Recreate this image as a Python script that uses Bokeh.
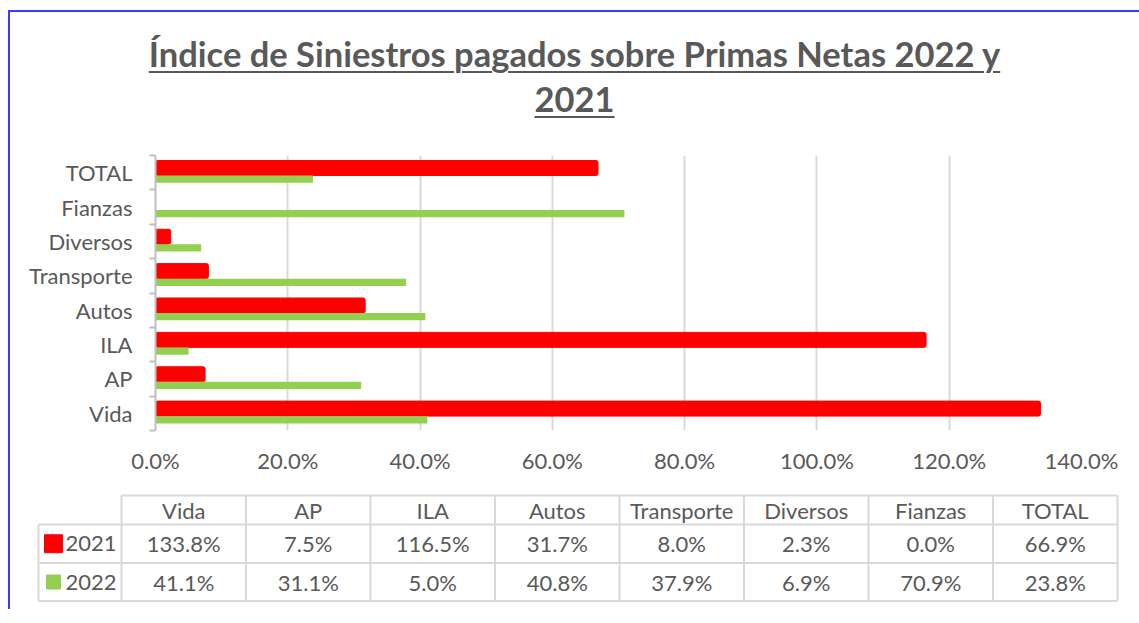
from bokeh.plotting import figure
from bokeh.models import Range1d, FixedTicker, PrintfTickFormatter, Div
from bokeh.layouts import column
from bokeh.embed import file_html
from bokeh.resources import INLINE
from bokeh.core.properties import value

# ---------------- data ----------------
categories = ["Vida", "AP", "ILA", "Autos", "Transporte", "Diversos", "Fianzas", "TOTAL"]
series_2021 = [133.8, 7.5, 116.5, 31.7, 8.0, 2.3, 0.0, 66.9]
series_2022 = [41.1, 31.1, 5.0, 40.8, 37.9, 6.9, 70.9, 23.8]
years = ["2021", "2022"]
x_ticks = [0, 20, 40, 60, 80, 100, 120, 140]
title_lines = ["Índice de Siniestros pagados sobre Primas Netas 2022 y", "2021"]

# ---------------- styles ----------------
FONT = "Lato"
TXT = "#595959"
RED = "#ff0000"
GREEN = "#92d050"
GRID = "#d9d9d9"
AXIS = "#bfbfbf"
FS = "22px"
W_ALL = 1129

n = len(categories)

# ---------------- title ----------------
title = Div(
    text=('<div style="width:%dpx;text-align:center;font-family:Lato;font-weight:bold;'
          'font-size:34.5px;color:%s;line-height:45px;padding-top:19px;padding-left:7px;'
          'text-decoration:underline;text-decoration-thickness:2px;text-underline-offset:4px;">'
          '%s<br>%s</div>') % (W_ALL - 7, TXT, title_lines[0], title_lines[1]),
    width=W_ALL, height=130, margin=0,
)

# ---------------- bar chart ----------------
p = figure(width=W_ALL, height=340, x_range=Range1d(0, 140), y_range=Range1d(0, n),
           output_backend="svg", toolbar_location=None,
           min_border_left=145, min_border_right=58, min_border_top=13, min_border_bottom=52,
           outline_line_color=None, background_fill_color="white", border_fill_color="white")
p.frame_align = False

centers = [i + 0.5 for i in range(n)]
RED_OFF, RED_H = 0.137, 0.436
GRN_OFF, GRN_H = -0.188, 0.212

p.hbar(y=[c + RED_OFF for c in centers], left=0, right=series_2021, height=RED_H,
       fill_color=RED, line_color=RED, border_radius=2)
p.hbar(y=[c + GRN_OFF for c in centers], left=0, right=series_2022, height=GRN_H,
       fill_color=GREEN, line_color=None)

p.xaxis.ticker = FixedTicker(ticks=x_ticks)
p.xaxis.formatter = PrintfTickFormatter(format="%.1f%%")
p.xaxis.axis_line_color = None
p.xaxis.major_tick_line_color = None
p.xaxis.minor_tick_line_color = None
p.xaxis.major_tick_out = 0
p.xaxis.major_tick_in = 0
p.xaxis.major_label_standoff = 16
p.xaxis.major_label_text_font = FONT
p.xaxis.major_label_text_font_size = FS
p.xaxis.major_label_text_color = TXT

p.xgrid.ticker = FixedTicker(ticks=x_ticks)
p.xgrid.grid_line_color = GRID
p.xgrid.grid_line_width = 2
p.ygrid.grid_line_color = None

p.yaxis.ticker = FixedTicker(ticks=centers, minor_ticks=list(range(n + 1)))
p.yaxis.major_label_overrides = {c: name for c, name in zip(centers, categories)}
p.yaxis.axis_line_color = AXIS
p.yaxis.axis_line_width = 2
p.yaxis.major_tick_line_color = None
p.yaxis.major_tick_out = 0
p.yaxis.major_tick_in = 0
p.yaxis.minor_tick_line_color = AXIS
p.yaxis.minor_tick_line_width = 2
p.yaxis.minor_tick_out = 6
p.yaxis.minor_tick_in = 0
p.yaxis.major_label_standoff = 17
p.yaxis.major_label_text_font = FONT
p.yaxis.major_label_text_font_size = FS
p.yaxis.major_label_text_color = TXT

# ---------------- data table ----------------
COL_W = 124.5
LAB_W = 83.0
PAD = 5.0
lab_x = -LAB_W / COL_W
t = figure(width=W_ALL, height=127,
           x_range=Range1d(-(LAB_W + PAD) / COL_W, n + PAD / COL_W),
           y_range=Range1d(122, 0),
           output_backend="svg", toolbar_location=None,
           min_border_left=23, min_border_right=17, min_border_top=3, min_border_bottom=2,
           outline_line_color=None, background_fill_color="white", border_fill_color="white")
t.frame_align = False
t.axis.visible = False
t.grid.visible = False

hdr_top, hdr_bot, r1_bot, r2_bot = 10, 39, 77.5, 115.5
x0s = [0, lab_x, lab_x, lab_x] + [lab_x] + list(range(n + 1))
x1s = [n, n, n, n] + [lab_x] + list(range(n + 1))
y0s = [hdr_top, hdr_bot, r1_bot, r2_bot] + [hdr_bot] + [hdr_top] * (n + 1)
y1s = [hdr_top, hdr_bot, r1_bot, r2_bot] + [r2_bot] + [r2_bot] * (n + 1)
t.segment(x0=x0s, y0=y0s, x1=x1s, y1=y1s, line_color=GRID, line_width=2)

row_y = [(hdr_bot + r1_bot) / 2, (r1_bot + r2_bot) / 2]
hdr_y = (hdr_top + hdr_bot) / 2
tx = dict(text_font=value(FONT), text_font_size=FS, text_color=TXT,
          text_align="center", text_baseline="middle")
t.text(x=centers, y=[hdr_y] * n, text=categories, **tx)
t.text(x=centers, y=[row_y[0]] * n, text=["%.1f%%" % v for v in series_2021], **tx)
t.text(x=centers, y=[row_y[1]] * n, text=["%.1f%%" % v for v in series_2022], **tx)

key_x = lab_x + 15 / COL_W
t.scatter(x=[key_x], y=[row_y[0]], marker="square", size=18, fill_color=RED, line_color=RED)
t.scatter(x=[key_x], y=[row_y[1]], marker="square", size=14, fill_color=GREEN, line_color=GREEN)
t.text(x=[lab_x + 27 / COL_W] * 2, y=row_y, text=years,
       text_font=value(FONT), text_font_size=FS, text_color=TXT,
       text_align="left", text_baseline="middle")

layout = column(title, p, t, spacing=0,
                styles={"border-top": "2px solid #3a3aff", "border-left": "2px solid #3a3aff",
                        "margin-top": "10px", "margin-left": "8px"})

open("out.html", "w").write(file_html(layout, INLINE))
